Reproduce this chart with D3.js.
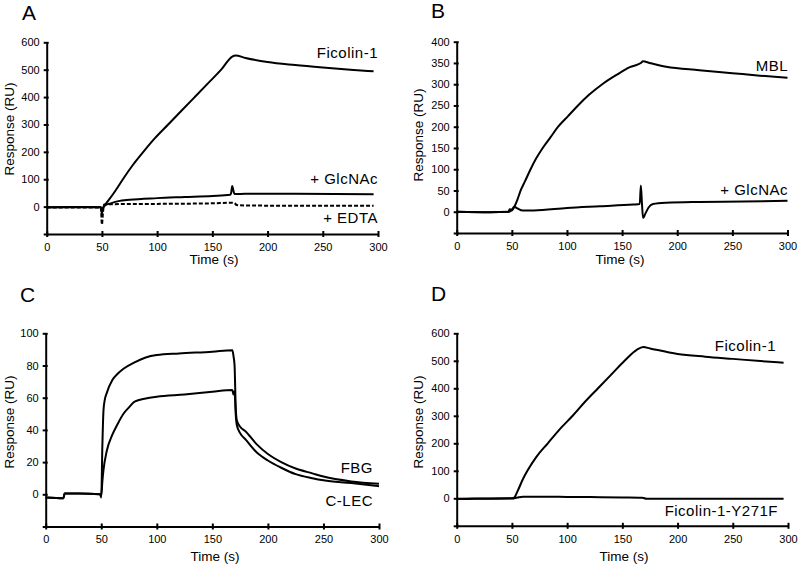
<!DOCTYPE html>
<html>
<head>
<meta charset="utf-8">
<script src="https://cdn.jsdelivr.net/npm/d3@7"></script>
<style>
  body { margin: 0; background: #fff; }
  svg { display: block; font-family: "Liberation Sans", Arial, sans-serif; }
  .axis path, .axis line { stroke: #000; stroke-width: 2; }
  .axis text { font-size: 11px; fill: #000; }
  .curve { fill: none; stroke: #000; stroke-width: 2; stroke-linejoin: round; }
</style>
</head>
<body>
<svg id="chart" width="800" height="565"></svg>
<script>
// time ticks shared by all panels
const timeTicks = [0, 50, 100, 150, 200, 250, 300];

// panel A
const ficolinA = [[0,-2],[20,-1],[40,-1],[49,-2],[50,-20],[51,-6],[52,2],[55,18],[60,45],[65,75],[69,100],[78,152],[87.5,200],[98,250],[110,300],[122,350],[134,400],[146,450],[158,500],[168,548],[171,552],[180,543],[200,528],[225,517],[250,508],[275,500],[296,494]];
const glcnacA = [[0,-2],[49,-2],[50,-25],[51,-5],[53,5],[58,12],[65,20],[75,25],[100,31],[125,35],[150,39],[166,43],[167,50],[168,75],[169,60],[170,46],[180,47],[225,47],[296,45]];
const edtaA = [[0,-3],[49,-3],[50,-65],[51,-20],[52,8],[60,9],[100,10],[150,12],[168,14],[170,13],[172,6],[180,4],[250,3],[296,3]];

// panel B
const mblB = [[0,0],[30,-1],[47,0],[49,2],[50,3],[52,10],[55,28],[58,50],[62,72],[67,100],[72,125],[78,150],[85,175],[92,200],[101,225],[110,250],[120,275],[132,300],[145,322],[157,340],[167,350],[169,354],[175,350],[190,341],[220,333],[250,326],[275,320],[300,315]];
const glcnacB = [[0,0],[30,-1],[47,0],[48,6],[50,5],[52,12],[55,8],[60,3],[70,3],[100,9],[130,13],[160,17],[166,18],[167,62],[168,20],[169,-15],[171,-5],[174,10],[178,18],[190,21],[220,23],[260,24],[300,26]];

// panel C
const fbgC = [[0,-2],[16,-2.5],[17,0.5],[30,0.5],[49,0],[50,-2],[51,30],[52,52],[53,58],[55,63],[60,71],[65,75],[70,78],[80,82],[90,85],[100,86.5],[120,87.5],[150,88.6],[168,89.5],[169,86],[170,80],[171,55],[172,46],[175,42],[180,39],[190,31],[200,25],[212,20],[225,16],[240,13],[250,11],[275,8],[300,6.5]];
const clecC = [[0,-2],[16,-2.5],[17,0.5],[30,0.5],[49,0],[50,-1],[51,8],[52,15],[55,27],[60,37],[65,44],[70,50],[75,54],[80,57.5],[90,59.5],[100,60.6],[125,62],[150,63.7],[168,64.8],[169,62],[170,64],[171,50],[172,43],[175,38],[180,34],[190,26],[200,21],[212,16.5],[225,12.5],[240,10],[250,8.7],[275,7],[300,5]];

// panel D
const ficolinD = [[0,-2],[20,-1],[50,0],[52,2],[55,25],[60,70],[64,100],[72,150],[82.5,200],[93,250],[105,300],[116,350],[128,400],[140,450],[152,500],[163,540],[169,550],[175,545],[200,525],[225,515],[250,507],[275,499],[296,493]];
const y271fD = [[0,-3],[15,-2],[50,-1],[55,3],[60,6],[80,6],[100,5],[130,4],[150,3],[168,2],[172,-2],[200,-2],[250,-2],[296,-2]];

const ticksA = [-100, 0, 100, 200, 300, 400, 500, 600];
const ticksB = [-50, 0, 50, 100, 150, 200, 250, 300, 350, 400];
const ticksC = [-20, 0, 20, 40, 60, 80, 100];
const ticksD = [-100, 0, 100, 200, 300, 400, 500, 600];

const svg = d3.select("#chart");

const panels = [
  { letter: "A", lx: 22, ly: 20, xr: [46.7, 378], yd: [-100, 600], yr: [234, 42.3], yTicks: ticksA,
    titleX: 214, titleY: 264, respX: 14, respY: 129,
    series: [
      { data: ficolinA, label: "Ficolin-1", tx: 378, ty: 58 },
      { data: glcnacA, label: "+ GlcNAc", tx: 378, ty: 184 },
      { data: edtaA, label: "+ EDTA", tx: 378, ty: 223, dash: "4,2" }
    ] },
  { letter: "B", lx: 431, ly: 18, xr: [456.7, 787.5], yd: [-50, 400], yr: [233, 41.7], yTicks: ticksB,
    titleX: 620, titleY: 264, respX: 423, respY: 135,
    series: [
      { data: mblB, label: "MBL", tx: 788, ty: 71 },
      { data: glcnacB, label: "+ GlcNAc", tx: 788, ty: 195 }
    ] },
  { letter: "C", lx: 20, ly: 302, xr: [45.7, 379], yd: [-20, 100], yr: [526.5, 333.3], yTicks: ticksC,
    titleX: 215, titleY: 561, respX: 14, respY: 422,
    series: [
      { data: fbgC, label: "FBG", tx: 373, ty: 473 },
      { data: clecC, label: "C-LEC", tx: 373, ty: 506 }
    ] },
  { letter: "D", lx: 431, ly: 301, xr: [456.7, 788], yd: [-100, 600], yr: [525.8, 333.3], yTicks: ticksD,
    titleX: 624, titleY: 561, respX: 423, respY: 422,
    series: [
      { data: ficolinD, label: "Ficolin-1", tx: 776, ty: 351 },
      { data: y271fD, label: "Ficolin-1-Y271F", tx: 778, ty: 516 }
    ] }
];

panels.forEach(p => {
  const x = d3.scaleLinear().domain([0, 300]).range(p.xr);
  const y = d3.scaleLinear().domain(p.yd).range(p.yr);
  const g = svg.append("g");

  // x axis, ticks cross the line
  const xa = g.append("g").attr("class", "axis")
    .attr("transform", `translate(0,${p.yr[0]})`)
    .call(d3.axisBottom(x).tickValues(timeTicks).tickSizeOuter(0).tickSizeInner(3).tickPadding(6));
  xa.selectAll(".tick line").attr("y1", -3).attr("y2", 3);

  // y axis, no label on the negative tick
  const ya = g.append("g").attr("class", "axis")
    .attr("transform", `translate(${p.xr[0]},0)`)
    .call(d3.axisLeft(y).tickValues(p.yTicks).tickSizeOuter(0).tickSizeInner(3).tickPadding(4)
      .tickFormat(d => d < 0 ? "" : d));
  ya.selectAll(".tick line").attr("x1", -3).attr("x2", 2);

  const line = d3.line().x(d => x(d[0])).y(d => y(d[1])).curve(d3.curveMonotoneX);

  p.series.forEach(s => {
    g.append("path").attr("class", "curve")
      .attr("d", line(s.data))
      .attr("stroke-dasharray", s.dash || null);
    g.append("text").attr("x", s.tx).attr("y", s.ty)
      .attr("text-anchor", "end").attr("font-size", 15)
      .attr("letter-spacing", 0.5).text(s.label);
  });

  g.append("text").attr("x", p.titleX).attr("y", p.titleY)
    .attr("text-anchor", "middle").attr("font-size", 13.5).text("Time (s)");
  g.append("text").attr("transform", `translate(${p.respX},${p.respY}) rotate(-90)`)
    .attr("text-anchor", "middle").attr("font-size", 13.5).text("Response (RU)");
  g.append("text").attr("x", p.lx).attr("y", p.ly)
    .attr("font-size", 21).text(p.letter);
});
</script>
</body>
</html>
